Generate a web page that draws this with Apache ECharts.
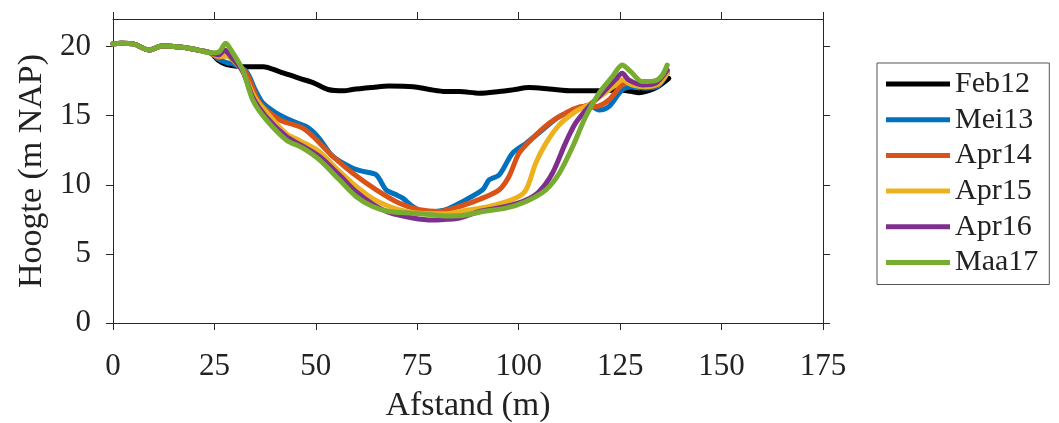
<!DOCTYPE html>
<html>
<head>
<meta charset="utf-8">
<script src="https://cdn.jsdelivr.net/npm/echarts@6/dist/echarts.min.js"></script>
<style>html,body{margin:0;padding:0;background:#fff}#c{width:1059px;height:423px}</style>
</head>
<body>
<div id="c"></div>
<script>
// Shared start of all profiles
const startX = [0, 2, 5, 9, 12, 17, 21, 24];
const startY = [20.2, 20.25, 20.2, 19.75, 20.05, 19.95, 19.75, 19.55];

const names = ['Feb12', 'Mei13', 'Apr14', 'Apr15', 'Apr16', 'Maa17'];
const colors = ['#000000', '#0072BD', '#D95319', '#EDB120', '#7E2F8E', '#77AC30'];

const feb12X = [26, 28, 32, 37, 41, 46, 49.3, 53, 57, 59, 64, 68, 74, 78, 82, 85.4, 90.3, 95.2, 98.5, 102.6, 107.5, 113.3, 119.8, 124.7, 127.9, 129.6, 133.7, 137];
const feb12Y = [19.0, 18.7, 18.55, 18.55, 18.2, 17.7, 17.4, 16.9, 16.8, 16.9, 17.05, 17.15, 17.1, 16.9, 16.75, 16.75, 16.63, 16.75, 16.87, 17.04, 16.94, 16.8, 16.8, 16.87, 16.75, 16.67, 17.0, 17.7];

const mei13X = [26, 28, 30, 32.9, 35, 37, 40.3, 43.5, 47.6, 49.3, 51, 54.2, 59.1, 62, 64.9, 67.3, 69.8, 71.4, 73.9, 77.2, 80.4, 82.1, 85.4, 91.1, 92.7, 95.2, 98.5, 101.8, 105.9, 110, 114.9, 117.3, 119.8, 122.2, 125.5, 127.9, 131.2, 134.4, 136.6];
const mei13Y = [19.1, 18.85, 18.7, 18.2, 16.9, 15.9, 15.18, 14.7, 14.22, 13.86, 13.3, 12.05, 11.2, 10.95, 10.72, 9.64, 9.28, 9.04, 8.43, 7.95, 8.1, 8.2, 8.67, 9.64, 10.36, 10.72, 12.29, 13.0, 13.98, 14.94, 15.54, 15.78, 15.42, 15.66, 16.87, 17.1, 16.99, 17.16, 18.07];

const apr14X = [26, 28, 30, 32.9, 36.2, 41.1, 44, 46.8, 49.3, 54.2, 59.1, 64.9, 70.6, 75.6, 80.4, 85.4, 91.1, 95.2, 97.6, 100.1, 103.4, 107.5, 111.5, 115.7, 118.9, 122.2, 125.5, 127.9, 131.2, 134.4, 136.6];
const apr14Y = [19.2, 19.4, 18.9, 18.07, 15.9, 14.7, 14.4, 14.1, 13.5, 12.05, 10.84, 9.64, 8.67, 8.2, 8.07, 8.43, 9.04, 9.64, 10.6, 12.3, 13.37, 14.46, 15.18, 15.66, 15.66, 16.14, 17.23, 17.35, 17.1, 17.23, 18.2];

const apr15X = [26, 28, 30, 32, 35, 38, 42.7, 46, 50.9, 55, 59.9, 64, 68.1, 72, 75.6, 82, 85.4, 92.7, 99.3, 101.8, 104.2, 106.7, 110, 114, 117.3, 120.6, 123.8, 125.5, 127.9, 131.2, 134.4, 136.6];
const apr15Y = [19.3, 19.3, 18.9, 18.2, 16.3, 15.2, 13.7, 13.2, 12.4, 11.2, 9.9, 9.0, 8.43, 8.1, 7.95, 7.9, 8.07, 8.43, 9.04, 9.64, 11.57, 13.0, 14.34, 15.3, 15.8, 16.5, 17.23, 17.6, 17.23, 17.1, 17.3, 18.07];

const apr16X = [26, 27.5, 29, 32, 34.5, 37.8, 42.7, 46.8, 50.9, 55.8, 59.9, 64, 68, 73.9, 78.8, 82, 85.4, 90.3, 96.8, 101.8, 105, 108.3, 111.5, 114, 117.3, 120.6, 123.8, 125.5, 127.1, 130.5, 133.7, 136.6];
const apr16Y = [19.4, 19.76, 19.3, 18.2, 16.3, 14.9, 13.5, 12.8, 12.05, 10.7, 9.5, 8.6, 8.0, 7.6, 7.45, 7.5, 7.59, 8.07, 8.43, 8.9, 9.5, 10.84, 13.0, 14.46, 15.66, 16.63, 17.6, 18.07, 17.6, 17.23, 17.35, 18.3];

const maa17X = [26, 27.8, 29, 32, 34.5, 37.8, 42.7, 46.8, 50.9, 55.8, 59.9, 64, 68.1, 73.9, 78.8, 82, 85.4, 91.1, 96.8, 101.8, 106.7, 110, 113.3, 116.5, 119.8, 123.1, 125.5, 127.6, 130.5, 133.7, 135.4, 136.6];
const maa17Y = [19.6, 20.24, 19.8, 18.3, 16.1, 14.7, 13.25, 12.65, 11.8, 10.36, 9.16, 8.43, 8.07, 7.95, 7.83, 7.75, 7.76, 8.07, 8.31, 8.8, 9.64, 10.84, 12.77, 14.94, 16.63, 17.83, 18.67, 18.19, 17.47, 17.54, 17.95, 18.67];

const xTicks = [0, 25, 50, 75, 100, 125, 150, 175];
const yTicks = [0, 5, 10, 15, 20];

const seriesX = [feb12X, mei13X, apr14X, apr15X, apr16X, maa17X];
const seriesY = [feb12Y, mei13Y, apr14Y, apr15Y, apr16Y, maa17Y];

function pairs(xs, ys) {
  const out = startX.map((x, i) => [x, startY[i]]);
  xs.forEach((x, i) => out.push([x, ys[i]]));
  return out;
}

const FONT = '"Liberation Serif", "DejaVu Serif", serif';
const AX = '#262626';

const chart = echarts.init(document.getElementById('c'), null, { renderer: 'canvas' });

const baseAxisLine = { show: true, onZero: false, lineStyle: { color: AX, width: 1 } };
const baseTick = { show: true, inside: false, length: 7, lineStyle: { color: AX, width: 1 } };

chart.setOption({
  animation: false,
  backgroundColor: '#ffffff',
  grid: { left: 113, right: 236, top: 19, bottom: 100, containLabel: false, outerBoundsMode: 'none' },
  legend: {
    orient: 'vertical',
    left: 877, top: 63,
    padding: [6, 11, 7, 9],
    borderColor: '#555', borderWidth: 1,
    icon: 'rect',
    itemWidth: 64, itemHeight: 5, itemGap: 5.7,
    textStyle: { fontFamily: FONT, fontSize: 30, lineHeight: 30, color: '#222' },
    data: names
  },
  xAxis: [{
    type: 'value', min: 0, max: 175, interval: 25,
    position: 'bottom',
    axisLine: baseAxisLine, axisTick: baseTick,
    axisLabel: { show: true, margin: 28, fontFamily: FONT, fontSize: 31, color: '#222', customValues: xTicks },
    splitLine: { show: false },
    name: 'Afstand (m)', nameLocation: 'middle', nameGap: 66,
    nameTextStyle: { fontFamily: FONT, fontSize: 34, color: '#222' }
  }, {
    type: 'value', min: 0, max: 175, interval: 25,
    position: 'top',
    axisLine: baseAxisLine, axisTick: baseTick,
    axisLabel: { show: false }, splitLine: { show: false }
  }],
  yAxis: [{
    type: 'value', min: 0, max: 22, interval: 5,
    position: 'left',
    axisLine: baseAxisLine,
    axisTick: Object.assign({}, baseTick, { customValues: yTicks }),
    axisLabel: { show: true, margin: 22, fontFamily: FONT, fontSize: 31, color: '#222', customValues: yTicks },
    splitLine: { show: false },
    name: 'Hoogte (m NAP)', nameLocation: 'middle', nameGap: 55,
    nameTextStyle: { fontFamily: FONT, fontSize: 34, color: '#222' }
  }, {
    type: 'value', min: 0, max: 22, interval: 5,
    position: 'right',
    axisLine: baseAxisLine,
    axisTick: Object.assign({}, baseTick, { customValues: yTicks }),
    axisLabel: { show: false }, splitLine: { show: false }
  }],
  series: names.map((n, i) => ({
    name: n, type: 'line',
    xAxisIndex: 0, yAxisIndex: 0,
    data: pairs(seriesX[i], seriesY[i]),
    showSymbol: false, symbol: 'none',
    smooth: 0.3,
    lineStyle: { color: colors[i], width: 5, cap: 'round', join: 'round' },
    itemStyle: { color: colors[i] },
    z: 2 + i
  }))
});
</script>
</body>
</html>
